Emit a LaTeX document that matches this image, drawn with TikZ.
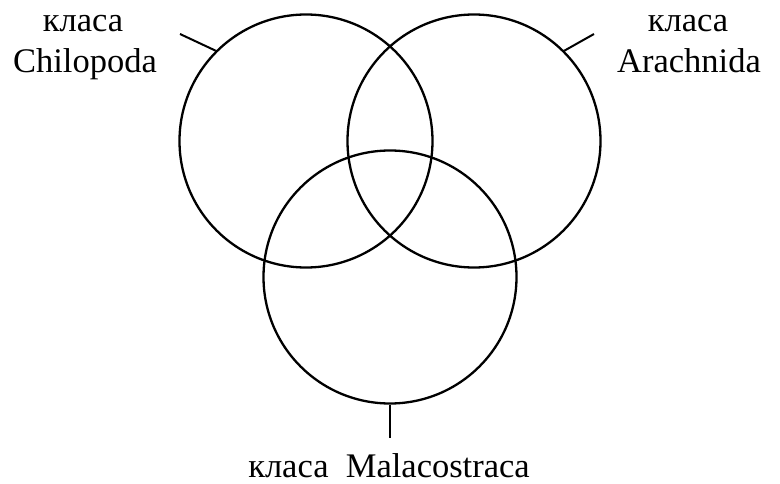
\documentclass[tikz,border=0pt]{standalone}
\usepackage{fontspec}
\setmainfont{Liberation Serif}
\begin{document}
\begin{tikzpicture}[x=1pt,y=-1pt,
  setc/.style={circle,draw,line width=2.3pt,minimum size=253pt,inner sep=0pt},
  tick/.style={line width=2pt},
  lbl/.style={font=\fontsize{34.5}{41}\selectfont,inner sep=0pt,anchor=base}]
\useasboundingbox (0,0) rectangle (780,484);
\node[setc] (L) at (306,141) {};
\node[setc] (R) at (474,141) {};
\node[setc] (B) at (390,277) {};
\coordinate (LT) at (180,34);
\coordinate (RT) at (594,34);
\coordinate (BT) at (390,438);
\draw[tick] (L.135) -- (LT);
\draw[tick] (R.45) -- (RT);
\draw[tick] (B.south) -- (BT);
\node[lbl] (LK) at (83,32) {класа};
\node[lbl] (LN) at (85,73) {Chilopoda};
\node[lbl] (RK) at (688,32) {класа};
\node[lbl] (RN) at (689,73) {Arachnida};
\node[lbl] (BN) at (389,477) {класа\ \ Malacostraca};
\end{tikzpicture}
\end{document}
